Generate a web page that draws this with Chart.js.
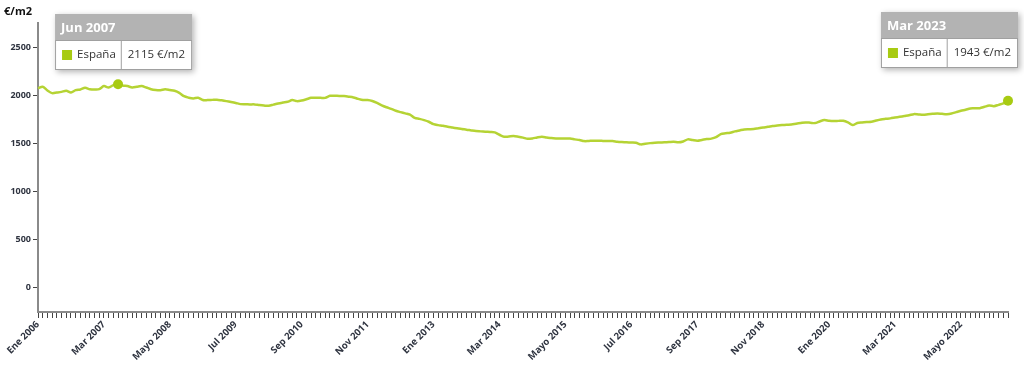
<!DOCTYPE html>
<html>
<head>
<meta charset="utf-8">
<script src="https://cdn.jsdelivr.net/npm/chart.js@4"></script>
<style>
  html, body { margin: 0; padding: 0; background: #fff; }
  #wrap { width: 1024px; height: 368px; }
</style>
</head>
<body>
<div id="wrap"><canvas id="priceChart"></canvas></div>
<script>
// data
const monthNames = ["Ene", "Feb", "Mar", "Abr", "Mayo", "Jun", "Jul", "Ago", "Sep", "Oct", "Nov", "Dic"];
const startYear = 2006;
const seriesName = "España";
const unit = "€/m2";
const values = [
  2071, 2088, 2050, 2022, 2028, 2035, 2046, 2029, 2053, 2060, 2077, 2063, // 2006
  2060, 2063, 2095, 2081, 2105, 2115, 2100, 2095, 2081, 2088, 2095, 2080, // 2007
  2063, 2055, 2053, 2063, 2055, 2046, 2025, 1990, 1975, 1967, 1974, 1950, // 2008
  1950, 1952, 1954, 1947, 1939, 1930, 1920, 1908, 1906, 1905, 1905, 1898, // 2009
  1893, 1891, 1903, 1915, 1924, 1932, 1950, 1939, 1945, 1958, 1973, 1973, // 2010
  1973, 1973, 1994, 1994, 1993, 1991, 1985, 1977, 1962, 1950, 1950, 1940, // 2011
  1920, 1895, 1875, 1858, 1839, 1825, 1812, 1800, 1765, 1755, 1742, 1725, // 2012
  1700, 1690, 1683, 1673, 1665, 1657, 1649, 1643, 1635, 1628, 1625, 1622, // 2013
  1618, 1615, 1590, 1569, 1572, 1576, 1569, 1560, 1548, 1552, 1562, 1569, // 2014
  1562, 1555, 1552, 1552, 1552, 1550, 1542, 1535, 1524, 1526, 1528, 1528, // 2015
  1526, 1524, 1524, 1518, 1514, 1511, 1509, 1507, 1490, 1497, 1503, 1507, // 2016
  1509, 1511, 1514, 1517, 1511, 1520, 1542, 1535, 1528, 1536, 1545, 1550, // 2017
  1565, 1597, 1605, 1611, 1625, 1635, 1645, 1647, 1649, 1658, 1666, 1672, // 2018
  1680, 1685, 1690, 1694, 1697, 1705, 1712, 1718, 1715, 1711, 1728, 1742, // 2019
  1735, 1732, 1734, 1735, 1718, 1690, 1712, 1718, 1722, 1725, 1738, 1749, // 2020
  1755, 1760, 1768, 1776, 1784, 1792, 1804, 1800, 1797, 1802, 1807, 1811, // 2021
  1807, 1804, 1810, 1825, 1839, 1850, 1863, 1864, 1866, 1880, 1894, 1887, // 2022
  1900, 1915, 1943                                                        // 2023
];
const yTicks = [0, 500, 1000, 1500, 2000, 2500];
const highlighted = ["Jun 2007", "Mar 2023"];
const labelEvery = 14;

const labels = values.map((v, i) => monthNames[i % 12] + " " + (startYear + Math.floor(i / 12)));
const highlightIdx = highlighted.map(l => labels.indexOf(l));

const lineColor = "#b5d334";
const dotColor = "#a8cb12";
const textColor = "#2f3440";
const fontFamily = "'Open Sans', 'Noto Sans', sans-serif";

// unit label above the y axis + static tooltip boxes for the highlighted points
const boxPlugin = {
  id: "boxes",
  afterDraw(chart) {
    const ctx = chart.ctx;
    const yScale = chart.scales.y;
    ctx.save();
    ctx.fillStyle = "#111";
    ctx.font = "bold 11px " + fontFamily;
    ctx.textAlign = "right";
    ctx.textBaseline = "middle";
    ctx.fillText(unit, yScale.right - 6, 12);
    ctx.restore();

    const meta = chart.getDatasetMeta(0);
    highlightIdx.forEach(idx => {
      const pt = meta.data[idx];
      const valText = values[idx] + " " + unit;
      ctx.save();
      ctx.font = "11.5px " + fontFamily;
      const nameW = ctx.measureText(seriesName).width;
      const valW = ctx.measureText(valText).width;
      const w = 7 + 10 + 5 + nameW + 5 + 7 + valW + 7;
      const headH = 26, bodyH = 30;
      let left = pt.x - 63;
      if (pt.x > chart.width / 2) left = Math.min(pt.x + 10, chart.width - 6) - w;
      const top = idx === highlightIdx[0] ? 14 : 12;

      ctx.shadowColor = "rgba(0,0,0,0.3)";
      ctx.shadowBlur = 6;
      ctx.shadowOffsetX = 2;
      ctx.shadowOffsetY = 2;
      ctx.fillStyle = "#fff";
      ctx.fillRect(left, top, w, headH + bodyH);
      ctx.shadowColor = "transparent";

      ctx.fillStyle = "#b3b3b3";
      ctx.fillRect(left, top, w, headH);
      ctx.strokeStyle = "#a0a0a0";
      ctx.lineWidth = 1;
      ctx.strokeRect(left + 0.5, top + headH + 0.5, w - 1, bodyH - 1);

      ctx.fillStyle = "#fff";
      ctx.font = "bold 13px " + fontFamily;
      ctx.textBaseline = "middle";
      ctx.fillText(labels[idx], left + 6, top + headH / 2 + 1);

      const cy = top + headH + bodyH / 2;
      ctx.fillStyle = dotColor;
      ctx.fillRect(left + 7, cy - 5, 10, 10);
      ctx.fillStyle = "#333";
      ctx.font = "11.5px " + fontFamily;
      ctx.fillText(seriesName, left + 22, cy);
      const divX = left + 22 + nameW + 5;
      ctx.beginPath();
      ctx.moveTo(divX + 0.5, top + headH);
      ctx.lineTo(divX + 0.5, top + headH + bodyH);
      ctx.stroke();
      ctx.fillText(valText, divX + 7, cy);
      ctx.restore();
    });
  }
};

new Chart(document.getElementById("priceChart"), {
  type: "line",
  data: {
    labels: labels,
    datasets: [
      {
        label: seriesName,
        data: values,
        borderColor: lineColor,
        borderWidth: 2.5,
        pointRadius: ctx => (highlightIdx.includes(ctx.dataIndex) ? 5 : 0),
        pointBackgroundColor: dotColor,
        pointBorderWidth: 0,
        tension: 0.3,
        fill: false,
      },
    ],
  },
  options: {
    responsive: true,
    maintainAspectRatio: false,
    animation: false,
    events: [],
    layout: { padding: { left: 0, right: 16, top: 23, bottom: 0 } },
    plugins: {
      legend: { display: false },
      tooltip: { enabled: false },
    },
    scales: {
      x: {
        grid: { drawOnChartArea: false, drawTicks: true, tickLength: 6, color: "#444" },
        border: { color: "#8a8a8a", width: 2 },
        ticks: {
          autoSkip: false,
          maxRotation: 45,
          minRotation: 45,
          padding: 1,
          color: textColor,
          font: { family: fontFamily, size: 9.5, weight: "bold" },
          callback: (v, i) => (i % labelEvery === 0 ? labels[i] : ""),
        },
        afterFit: s => { s.height = 56; },
      },
      y: {
        min: -250,
        max: 2750,
        afterBuildTicks: axis => {
          axis.ticks = yTicks.map(v => ({ value: v }));
        },
        grid: { drawOnChartArea: false, drawTicks: true, tickLength: 5, color: "#444" },
        border: { color: "#8a8a8a", width: 2 },
        ticks: {
          padding: 2,
          color: textColor,
          font: { family: fontFamily, size: 9, weight: "bold" },
          callback: v => String(v),
        },
        afterFit: s => { s.width = 38; },
      },
    },
  },
  plugins: [boxPlugin],
});
</script>
</body>
</html>
